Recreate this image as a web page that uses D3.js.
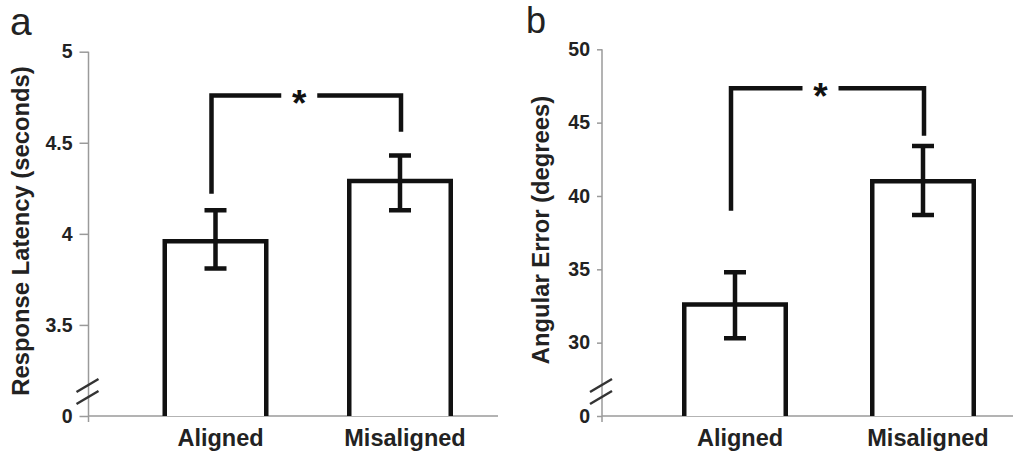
<!DOCTYPE html>
<html>
<head>
<meta charset="utf-8">
<script src="https://cdn.jsdelivr.net/npm/d3@7"></script>
<style>
  body { margin: 0; background: #fff; }
  text { font-family: "Liberation Sans", Arial, sans-serif; }
</style>
</head>
<body>
<div id="chart-area"></div>
<script>
// Categories
var categories = ["Aligned", "Misaligned"];

// Panel a: response latency (seconds)
var latencyMean = [3.96, 4.29];
var latencyLow = [3.81, 4.13];
var latencyHigh = [4.13, 4.43];
var latencyTicks = [3, 3.5, 4, 4.5, 5];
var latencyTickLabels = ["0", "3.5", "4", "4.5", "5"];
var latencyBracket = [4.22, 4.76, 4.56]; // left drop, bar, right drop

// Panel b: angular error (degrees)
var errorMean = [32.6, 41.0];
var errorLow = [30.3, 38.7];
var errorHigh = [34.8, 43.4];
var errorTicks = [25, 30, 35, 40, 45, 50];
var errorTickLabels = ["0", "30", "35", "40", "45", "50"];
var errorBracket = [39.0, 47.35, 44.1];

var width = 1013, height = 458;

var svg = d3.select("#chart-area").append("svg")
    .attr("width", width)
    .attr("height", height);

var panels = [
    { letter: "a", title: "Response Latency (seconds)",
      mean: latencyMean, low: latencyLow, high: latencyHigh,
      ticks: latencyTicks, tickLabels: latencyTickLabels, bracket: latencyBracket,
      x0: 88.5, x1: 498, top: 51.7, base: 416, barRange: [34.75, 403.75],
      tickSize: 9, letterX: 10, letterY: 35, letterSize: 39, titleX: 28.5, titleY: 231 },
    { letter: "b", title: "Angular Error (degrees)",
      mean: errorMean, low: errorLow, high: errorHigh,
      ticks: errorTicks, tickLabels: errorTickLabels, bracket: errorBracket,
      x0: 602, x1: 1013, top: 49.3, base: 416, barRange: [39, 415],
      tickSize: 5, letterX: 526, letterY: 32.5, letterSize: 36, titleX: 549, titleY: 230 }
];

var axisColour = "#9a9a9a";
var ink = "#111";
var barStroke = 4.5;

panels.forEach(function(p) {
    var g = svg.append("g")
        .attr("transform", "translate(" + p.x0 + ",0)");

    // Scales
    var y = d3.scaleLinear()
        .domain(d3.extent(p.ticks))
        .range([p.base, p.top]);

    var step = (p.barRange[1] - p.barRange[0]) / 2;
    var pad = 1 - (106 - barStroke) / step;
    var x = d3.scaleBand()
        .domain(categories)
        .range(p.barRange)
        .paddingInner(pad)
        .paddingOuter(pad / 2);

    // Y axis
    var yAxisCall = d3.axisLeft(y)
        .tickValues(p.ticks)
        .tickSize(p.tickSize)
        .tickPadding(7)
        .tickFormat(function(d, i) { return p.tickLabels[i]; });

    var yAxis = g.append("g").call(yAxisCall);
    yAxis.select(".domain").remove();
    yAxis.selectAll(".tick line")
        .attr("stroke", axisColour)
        .attr("stroke-width", 1.5);
    yAxis.selectAll(".tick text")
        .attr("fill", "#222")
        .attr("font-size", "19.5px")
        .attr("font-weight", "bold")
        .attr("font-family", "'Liberation Sans', Arial, sans-serif");

    // axis lines
    g.append("line")
        .attr("x1", 0).attr("x2", 0)
        .attr("y1", y(d3.max(p.ticks))).attr("y2", p.base + 6)
        .attr("stroke", axisColour)
        .attr("stroke-width", 1.5);
    g.append("line")
        .attr("x1", 0).attr("x2", p.x1 - p.x0)
        .attr("y1", p.base).attr("y2", p.base)
        .attr("stroke", axisColour)
        .attr("stroke-width", 1.5);

    // axis break marks
    [-30, -18].forEach(function(off) {
        g.append("line")
            .attr("x1", -12).attr("y1", p.base + off + 6)
            .attr("x2", 10).attr("y2", p.base + off - 7)
            .attr("stroke", "#333")
            .attr("stroke-width", 2.5);
    });

    // Bars (open at the bottom)
    g.selectAll(".bar")
        .data(categories)
        .enter().append("path")
        .attr("class", "bar")
        .attr("fill", "#fff")
        .attr("stroke", ink)
        .attr("stroke-width", barStroke)
        .attr("d", function(d, i) {
            var l = x(d), r = x(d) + x.bandwidth();
            return "M" + l + "," + p.base + "V" + y(p.mean[i]) + "H" + r + "V" + p.base;
        });

    // Error bars
    var capW = 22;
    g.selectAll(".err")
        .data(categories)
        .enter().append("path")
        .attr("class", "err")
        .attr("fill", "none")
        .attr("stroke", ink)
        .attr("stroke-width", barStroke)
        .attr("d", function(d, i) {
            var c = x(d) + x.bandwidth() / 2;
            return "M" + c + "," + y(p.low[i]) + "V" + y(p.high[i]) +
                "M" + (c - capW / 2) + "," + y(p.high[i]) + "H" + (c + capW / 2) +
                "M" + (c - capW / 2) + "," + y(p.low[i]) + "H" + (c + capW / 2);
        });

    // Significance bracket
    var cl = x(categories[0]) + x.bandwidth() / 2 - 4;
    var cr = x(categories[1]) + x.bandwidth() / 2 + 1;
    var star = (cl + cr) / 2 - 7;
    var by = y(p.bracket[1]);
    g.append("path")
        .attr("fill", "none")
        .attr("stroke", ink)
        .attr("stroke-width", barStroke)
        .attr("d", "M" + cl + "," + y(p.bracket[0]) + "V" + by + "H" + (star - 18) +
            "M" + (star + 18) + "," + by + "H" + cr + "V" + y(p.bracket[2]));
    g.append("text")
        .attr("x", star)
        .attr("y", by)
        .attr("dy", "0.56em")
        .attr("text-anchor", "middle")
        .attr("font-size", "37px")
        .attr("font-weight", "bold")
        .attr("fill", ink)
        .text("*");

    // X axis labels
    var xAxisCall = d3.axisBottom(x).tickSize(0).tickPadding(13.5);
    var xAxis = g.append("g")
        .attr("transform", "translate(0," + p.base + ")")
        .call(xAxisCall);
    xAxis.select(".domain").remove();
    xAxis.selectAll(".tick text")
        .attr("dx", "5px")
        .attr("fill", "#222")
        .attr("font-size", "23.5px")
        .attr("font-weight", "bold")
        .attr("font-family", "'Liberation Sans', Arial, sans-serif");

    // Y axis title
    svg.append("text")
        .attr("transform", "translate(" + p.titleX + "," + p.titleY + ") rotate(-90)")
        .attr("text-anchor", "middle")
        .attr("font-size", "23.8px")
        .attr("font-weight", "bold")
        .attr("fill", "#222")
        .text(p.title);

    // Panel letter
    svg.append("text")
        .attr("x", p.letterX)
        .attr("y", p.letterY)
        .attr("font-size", p.letterSize + "px")
        .attr("fill", "#222")
        .text(p.letter);
});
</script>
</body>
</html>
